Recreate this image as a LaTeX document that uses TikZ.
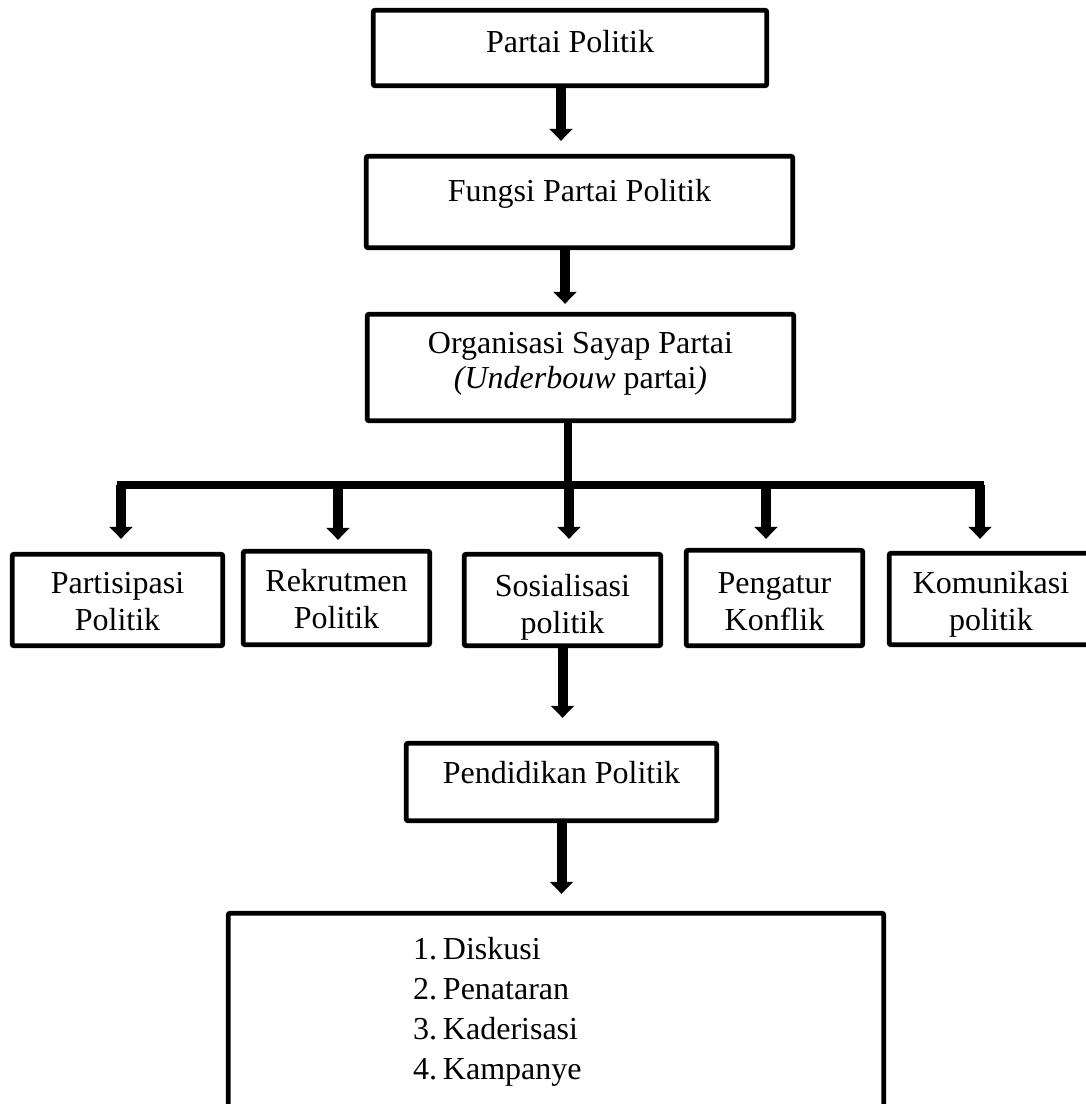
\documentclass[tikz,border=0pt]{standalone}
\usepackage{fontspec}
\setmainfont{Liberation Serif}
\usetikzlibrary{arrows.meta}

\tikzset{
  kotak/.style={draw, line width=2.4pt, rounded corners=1pt, align=center, inner sep=0pt, text height=11pt},
  panah/.style={line width=5pt, -{Triangle[width=11.5pt,length=6pt]}},
  garis/.style={line width=4pt, line cap=rect},
}

\begin{document}
\begin{tikzpicture}[x=0.5pt, y=-0.5pt, font=\fontsize{16}{18.5}\selectfont]
    \useasboundingbox (0,0) rectangle (1086,1104);

    % Partai Politik
    \node[kotak, minimum width=196.8pt, minimum height=37.8pt, text depth=7pt] (partai) at (570,48) {Partai Politik};

    % Fungsi
    \node[kotak, minimum width=213.3pt, minimum height=45.8pt, text depth=12pt] (fungsi) at (579.5,202) {Fungsi Partai Politik};

    % Organisasi sayap
    \node[kotak, minimum width=213.3pt, minimum height=53.3pt, text height=24.5pt, text depth=4pt, font=\fontsize{16}{17.5}\selectfont] (sayap) at (580.5,367.5)
        {Organisasi Sayap Partai\\\textit{(Underbouw} partai\textit{)}};

    % Lima fungsi
    \node[kotak, minimum width=105.3pt, minimum height=45.8pt, text height=34pt, text depth=4pt] (partisipasi) at (117.5,600) {Partisipasi\\Politik};
    \node[kotak, minimum width=93.3pt, minimum height=46.8pt, text height=34pt, text depth=4pt] (rekrutmen) at (336.5,598) {Rekrutmen\\Politik};
    \node[kotak, minimum width=98.3pt, minimum height=45.8pt, text height=37pt, text depth=4pt] (sosialisasi) at (562.5,600) {Sosialisasi\\politik};
    \node[kotak, minimum width=88.3pt, minimum height=47.8pt, text height=36pt, text depth=4pt] (pengatur) at (774.5,598) {Pengatur\\Konflik};
    \node[kotak, minimum width=101.8pt, minimum height=45.8pt, text height=35pt, text depth=4pt] (komunikasi) at (991,599) {Komunikasi\\politik};

    % Pendidikan politik
    \node[kotak, minimum width=155.3pt, minimum height=38.8pt, text depth=10pt] (pendidikan) at (561.5,782) {Pendidikan Politik};

    % Bentuk kegiatan
    \node[kotak, minimum width=327.8pt, minimum height=98.8pt, text depth=64pt, text width=143pt, align=left, font=\fontsize{16}{20}\selectfont\frenchspacing] (kegiatan) at (556,1012)
        {1.\hspace{3pt}Diskusi\\2.\hspace{3pt}Penataran\\3.\hspace{3pt}Kaderisasi\\4.\hspace{3pt}Kampanye};

    % Panah atas
    \draw[panah, shorten >=6.5pt] ([xshift=-4.5pt]partai.south) -- ([xshift=-4.5pt]partai.south |- fungsi.north);
    \draw[panah, shorten >=4pt] ([xshift=-7.25pt]fungsi.south) -- ([xshift=-7.25pt]fungsi.south |- sayap.north);

    % Cabang
    \coordinate (kiri) at (121,485);
    \coordinate (kanan) at (980,485);
    \draw[garis] ([xshift=-6.25pt]sayap.south) -- ([xshift=-6.25pt]sayap.south |- kiri);
    \draw[garis] (kiri) -- (kanan);

    \draw[panah, shorten >=6.5pt] (kiri) -- (kiri |- partisipasi.north);
    \draw[panah, shorten >=4.5pt] ([xshift=0.75pt]rekrutmen.north |- kiri) -- ([xshift=0.75pt]rekrutmen.north);
    \draw[panah, shorten >=6.5pt] ([xshift=3.25pt]sosialisasi.north |- kiri) -- ([xshift=3.25pt]sosialisasi.north);
    \draw[panah, shorten >=4.5pt] ([xshift=-4.25pt]pengatur.north |- kiri) -- ([xshift=-4.25pt]pengatur.north);
    \draw[panah, shorten >=6pt] (kanan) -- (kanan |- komunikasi.north);

    % Panah bawah
    \draw[panah, shorten >=11.5pt] (sosialisasi.south) -- (sosialisasi.south |- pendidikan.north);
    \draw[panah, shorten >=8.5pt] (pendidikan.south) -- (pendidikan.south |- kegiatan.north);
\end{tikzpicture}
\end{document}
